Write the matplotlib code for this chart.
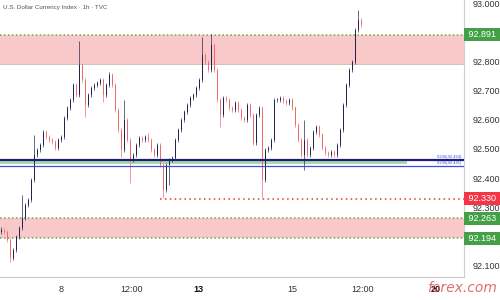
import matplotlib
matplotlib.use("Agg")
import matplotlib.pyplot as plt
from matplotlib.transforms import blended_transform_factory

plt.rcParams['font.family'] = ['Liberation Sans', 'DejaVu Sans']

# ---- data (hourly-ish candles) ----
first_open = 92.215
closes = [
    92.223, 92.216, 92.188, 92.127, 92.154, 92.199, 92.229, 92.264, 92.308, 92.325,
    92.394, 92.479, 92.497, 92.514, 92.558, 92.541, 92.531, 92.524, 92.503, 92.531,
    92.541, 92.606, 92.640, 92.668, 92.719, 92.685, 92.788, 92.736, 92.651, 92.685,
    92.709, 92.719, 92.726, 92.736, 92.685, 92.719, 92.753, 92.719, 92.634, 92.565,
    92.497, 92.599, 92.531, 92.462, 92.479, 92.514, 92.538, 92.531, 92.541, 92.531,
    92.497, 92.479, 92.514, 92.445, 92.360, 92.445, 92.462, 92.469, 92.531, 92.565,
    92.599, 92.627, 92.651, 92.675, 92.685, 92.709, 92.736, 92.822, 92.798, 92.771,
    92.856, 92.771, 92.668, 92.616, 92.675, 92.668, 92.640, 92.634, 92.658, 92.634,
    92.606, 92.599, 92.651, 92.616, 92.521, 92.616, 92.640, 92.394, 92.497, 92.503,
    92.531, 92.668, 92.668, 92.675, 92.664, 92.658, 92.668, 92.640, 92.582, 92.531,
    92.479, 92.531, 92.479, 92.503, 92.558, 92.575, 92.548, 92.503, 92.486, 92.479,
    92.490, 92.479, 92.514, 92.565, 92.651, 92.719, 92.771, 92.798, 92.908, 92.942,
    92.925,
]
spike_highs = {0: 92.232, 7: 92.342, 11: 92.548, 26: 92.870, 36: 92.764, 41: 92.668,
               49: 92.555, 67: 92.884, 70: 92.895, 101: 92.599, 119: 92.976, 120: 92.950}
spike_lows = {3: 92.113, 28: 92.610, 34: 92.661, 40: 92.473, 43: 92.384, 54: 92.332,
              56: 92.377, 73: 92.575, 87: 92.332, 101: 92.428}

# horizontal levels
upper_zone = (92.790, 92.891)
lower_zone = (92.194, 92.263)
fib_upper = 92.464
fib_lower = 92.441
fib_band = (92.447, 92.458)
support_red = 92.330

yticks = [93.0, 92.8, 92.7, 92.6, 92.5, 92.4, 92.3, 92.1]
tagged_levels = [(92.891, '92.891', '#43a047'), (92.330, '92.330', '#f23645'),
                 (92.263, '92.263', '#43a047'), (92.194, '92.194', '#43a047')]
xtick_pos = [19.8, 43.2, 65.8, 96.8, 120.2, 144.8]
xtick_labels = ['8', '12:00', '13', '15', '12:00', '20']
xtick_bold = [False, False, True, False, False, True]

# ---- figure ----
W, H = 500, 300
fig = plt.figure(figsize=(W / 100, H / 100), dpi=100)
ax_right = 464
ax_bottom = 277
ax = fig.add_axes([0, 1 - ax_bottom / H, ax_right / W, ax_bottom / H])
ax.set_xlim(-0.5, 154.17)
ax.set_ylim(92.0616, 93.0103)

# zones
ax.axhspan(*upper_zone, color='#f9c9c9', lw=0, zorder=0)
ax.axhspan(*lower_zone, color='#f9c9c9', lw=0, zorder=0)
for lv in (upper_zone[1], lower_zone[0], lower_zone[1]):
    ax.axhline(lv, color='#6aa84f', lw=1.1, ls=(0, (1, 1.6)), zorder=1)
ax.axhline(upper_zone[0], color='#c9b9a9', lw=0.6, zorder=1)

# fib band & lines
ax.fill_between([-0.5, 135.2], fib_band[0], fib_band[1], color='#a8dba8', lw=0, zorder=1)
ax.axhline(fib_upper, color='#1f1f7a', lw=1.6, zorder=4)
ax.axhline(fib_lower, color='#3b4fe0', lw=0.9, zorder=4)
ax.text(153.5, fib_upper + 0.003, '0.236(92.464)', fontsize=3, color='#3b4fe0',
        ha='right', va='bottom', zorder=5)
ax.text(153.5, fib_lower + 0.003, '0.236(92.441)', fontsize=3, color='#3b4fe0',
        ha='right', va='bottom', zorder=5)

# red dotted support
ax.plot([52.8, 154.17], [support_red, support_red], color='#e53935', lw=1.1,
        ls=(0, (1, 2.2)), zorder=2)

# candles
opens = [first_open] + closes[:-1]
bull_c, bear_c = '#22244f', '#ef6b6b'
for i, (o, c) in enumerate(zip(opens, closes)):
    hi = spike_highs.get(i, max(o, c) + 0.006)
    lo = spike_lows.get(i, min(o, c) - 0.006)
    col = bull_c if c >= o else bear_c
    ax.plot([i, i], [lo, hi], color=col, lw=0.6, alpha=0.8, zorder=3,
            solid_capstyle='butt')
    bottom = min(o, c)
    h = max(abs(c - o), 0.002)
    ax.bar(i, h, bottom=bottom, width=0.62, color=col, lw=0, zorder=3)

# axes styling
for s in ('top', 'left'):
    ax.spines[s].set_visible(False)
ax.spines['right'].set_color('#d0d0d0')
ax.spines['bottom'].set_color('#c8c8c8')
ax.spines['right'].set_linewidth(0.8)
ax.spines['bottom'].set_linewidth(0.8)
ax.yaxis.tick_right()
ax.set_yticks(yticks)
ax.set_yticklabels([f'{v:.3f}' for v in yticks], fontsize=6.5, color='#333333')
ax.tick_params(axis='y', length=0, pad=6)
ax.set_xticks(xtick_pos)
ax.set_xticklabels(xtick_labels, fontsize=6.5, color='#333333')
for lbl, b in zip(ax.get_xticklabels(), xtick_bold):
    if b:
        lbl.set_fontweight('bold')
        lbl.set_color('#111111')
ax.tick_params(axis='x', length=0, pad=6)

# tagged price labels on axis
tr = blended_transform_factory(ax.transAxes, ax.transData)
for val, txt, col in tagged_levels:
    ax.text(1.004, val, ' ' + txt + '  ', transform=tr, fontsize=6.5, color='white',
            ha='left', va='center', zorder=10, clip_on=False,
            bbox=dict(boxstyle='square,pad=0.22', fc=col, ec='none'))

# title
fig.text(0.006, 0.985, 'U.S. Dollar Currency Index · 1h · TVC', fontsize=4.5,
         color='#555555', ha='left', va='top')

# watermark
fig.text(0.993, 0.04, 'forex.com', fontsize=10, style='italic', color='#dd5555',
         alpha=0.85, ha='right', va='center', family='DejaVu Sans')

fig.savefig('out.png', dpi=100)
